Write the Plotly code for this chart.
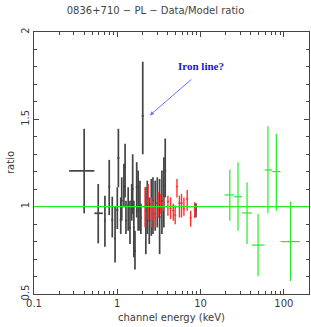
import numpy as np
import plotly.graph_objects as go

# ---- Black points (low-energy instrument) ----
black_x = [0.40, 0.59, 0.71, 0.80, 0.87, 0.94, 1.00, 1.03, 1.10, 1.13, 1.20, 1.24, 1.27, 1.35,
           1.42, 1.49, 1.53, 1.58, 1.63, 1.71, 1.78, 1.87, 1.92, 2.02, 2.20, 2.29, 2.42, 2.56,
           2.68, 2.85, 3.02, 3.22, 3.43, 3.62, 3.76, 8.8]
black_y = [1.205, 0.962, 0.92, 1.115, 0.925, 0.818, 0.98, 1.278, 0.924, 1.034, 1.117, 1.226, 0.92, 1.006,
           0.88, 1.034, 1.10, 0.88, 0.747, 1.111, 0.977, 1.006, 0.938, 1.52, 0.977, 1.016, 0.92, 1.016,
           1.034, 0.96, 1.02, 0.94, 1.034, 1.12, 1.207, 0.98]
black_top = [1.446, 1.13, 1.063, 1.268, 1.057, 1.004, 1.111, 1.446, 1.053, 1.168, 1.245, 1.36, 1.034, 1.111,
             1.034, 1.13, 1.30, 1.034, 0.862, 1.255, 1.207, 1.149, 1.016, 1.83, 1.111, 1.149, 1.053, 1.159,
             1.168, 1.149, 1.168, 1.159, 1.207, 1.283, 1.39, 1.02]
black_bot = [0.962, 0.79, 0.77, 0.952, 0.824, 0.68, 0.872, 1.111, 0.843, 0.92, 0.996, 1.053, 0.843, 0.862,
             0.786, 0.92, 0.958, 0.71, 0.64, 0.938, 0.862, 0.862, 0.843, 1.30, 0.728, 0.843, 0.786, 0.833,
             0.843, 0.862, 0.881, 0.728, 0.843, 0.881, 1.053, 0.94]
black_xlo = [0.136, 0.06, 0.02, 0.022, 0.024, 0.025, 0.027, 0.028, 0.03, 0.03, 0.032, 0.033, 0.034, 0.036,
             0.038, 0.04, 0.041, 0.042, 0.044, 0.046, 0.048, 0.05, 0.052, 0.054, 0.059, 0.061, 0.065, 0.069,
             0.072, 0.077, 0.081, 0.086, 0.092, 0.097, 0.10, 0.24]
black_xhi = [0.13, 0.08, 0.02, 0.022, 0.024, 0.025, 0.027, 0.028, 0.03, 0.03, 0.032, 0.033, 0.034, 0.036,
             0.038, 0.04, 0.041, 0.042, 0.044, 0.046, 0.048, 0.05, 0.052, 0.054, 0.059, 0.061, 0.065, 0.069,
             0.072, 0.077, 0.081, 0.086, 0.092, 0.097, 0.10, 0.24]

# ---- Red points (mid-energy instrument) ----
red_x = [2.15, 2.35, 2.56, 2.68, 2.85, 3.10, 3.31, 3.60, 4.05, 4.36, 4.70, 4.95, 5.20, 5.57,
         5.90, 6.30, 6.90, 7.60, 8.50]
red_y = [1.0, 1.03, 0.987, 0.98, 0.94, 1.03, 1.02, 1.02, 1.03, 0.99, 0.977, 0.952, 1.115, 1.02,
         1.02, 0.987, 1.044, 0.935, 0.98]
red_top = [1.111, 1.13, 1.053, 1.034, 0.996, 1.082, 1.073, 1.053, 1.063, 1.053, 1.016, 1.006, 1.159, 1.063,
           1.073, 1.053, 1.096, 0.977, 1.025]
red_bot = [0.881, 0.93, 0.881, 0.92, 0.881, 0.938, 0.958, 0.977, 0.948, 0.929, 0.92, 0.90, 1.053, 0.938,
           0.938, 0.948, 0.977, 0.885, 0.935]
red_xerr = [0.07, 0.075, 0.08, 0.085, 0.09, 0.1, 0.1, 0.11, 0.12, 0.13, 0.14, 0.15, 0.16, 0.17,
            0.18, 0.19, 0.21, 0.23, 0.26]

# ---- Green points (high-energy instrument) ----
green_x = [22.4, 28.1, 36.1, 48.9, 64.3, 81.0, 120.0]
green_y = [1.067, 1.057, 0.964, 0.78, 1.21, 1.201, 0.80]
green_top = [1.213, 1.255, 1.14, 0.958, 1.46, 1.418, 1.029]
green_bot = [0.92, 0.862, 0.786, 0.603, 0.962, 0.977, 0.575]
green_xlo = [19.4, 25.3, 31.3, 41.3, 58.6, 72.5, 91.0]
green_xhi = [25.3, 31.3, 41.3, 58.6, 72.5, 90.6, 155.0]

x_ticks = [0.1, 1, 10, 100]
x_tick_labels = ["0.1", "1", "10", "100"]
y_ticks = [0.5, 1, 1.5, 2]
y_tick_labels = ["0.5", "1", "1.5", "2"]


def trace(x, y, top, bot, xlo, xhi, color, thick):
    return go.Scatter(
        x=x, y=y, mode="markers",
        marker=dict(size=1, color=color, opacity=0),
        error_y=dict(type="data", symmetric=False,
                     array=[t - v for t, v in zip(top, y)],
                     arrayminus=[v - b for v, b in zip(y, bot)],
                     color=color, thickness=thick, width=0),
        error_x=dict(type="data", symmetric=False, array=xhi, arrayminus=xlo,
                     color=color, thickness=thick, width=0),
        showlegend=False, hoverinfo="skip",
    )


fig = go.Figure()
fig.add_trace(trace(black_x, black_y, black_top, black_bot, black_xlo, black_xhi, "#444444", 1.7))
fig.add_trace(trace(red_x, red_y, red_top, red_bot, red_xerr, red_xerr, "#ff3030", 1.4))
fig.add_trace(trace(green_x, green_y, green_top, green_bot,
                    [x - l for x, l in zip(green_x, green_xlo)],
                    [h - x for x, h in zip(green_x, green_xhi)], "#22ee22", 1.2))

fig.add_shape(type="line", xref="paper", yref="y", x0=0, x1=1, y0=1, y1=1,
              line=dict(color="#22ee22", width=1.2))

fig.add_annotation(x=np.log10(2.46), y=1.523, ax=np.log10(8.07), ay=1.736,
                   xref="x", yref="y", axref="x", ayref="y", text="",
                   showarrow=True, arrowhead=2, arrowsize=0.8, arrowwidth=1,
                   arrowcolor="#6f6fff")
fig.add_annotation(x=np.log10(10.05), y=1.805, xref="x", yref="y", text="<b>Iron line?</b>",
                   showarrow=False,
                   font=dict(family="Liberation Serif, DejaVu Serif, serif", size=11, color="#1a1acc"))

axis_font = dict(family="DejaVu Sans, sans-serif", size=10, color="#3a3a3a")
fig.add_annotation(x=0.5, y=0, xref="paper", yref="paper", yshift=-23, yanchor="middle",
                   text="channel energy (keV)", showarrow=False, font=axis_font)
fig.add_annotation(x=0, y=0.5, xref="paper", yref="paper", xshift=-24, xanchor="center",
                   text="ratio", textangle=-90, showarrow=False, font=axis_font)

fig.update_layout(
    width=311, height=327,
    margin=dict(l=34, r=2, t=32, b=33, autoexpand=False),
    paper_bgcolor="white", plot_bgcolor="white",
    title=dict(text="0836+710 − PL − Data/Model ratio", x=0.5, xanchor="center",
               y=1 - 10 / 327, yanchor="middle", automargin=False,
               font=dict(family="DejaVu Sans, sans-serif", size=10, color="#444444")),
    xaxis=dict(type="log", range=[-1, np.log10(200)], automargin=False,
               tickvals=x_ticks, ticktext=x_tick_labels,
               ticks="inside", ticklen=5, tickcolor="#444", mirror="allticks",
               showline=True, linecolor="#444", linewidth=1, showgrid=False, zeroline=False,
               minor=dict(ticks="inside", ticklen=3, tickcolor="#444", showgrid=False,
                          dtick="D1"),
               tickfont=axis_font),
    yaxis=dict(range=[0.5, 2], tickvals=y_ticks, ticktext=y_tick_labels, automargin=False,
               ticks="inside", ticklen=5, tickcolor="#444", mirror="allticks",
               showline=True, linecolor="#444", linewidth=1, showgrid=False, zeroline=False,
               tickangle=-90,
               minor=dict(ticks="inside", ticklen=3, tickcolor="#444", showgrid=False, dtick=0.1),
               tickfont=axis_font),
)

fig.write_html("out.html", post_script="document.body.style.margin='0';",
               config={"displayModeBar": False})
